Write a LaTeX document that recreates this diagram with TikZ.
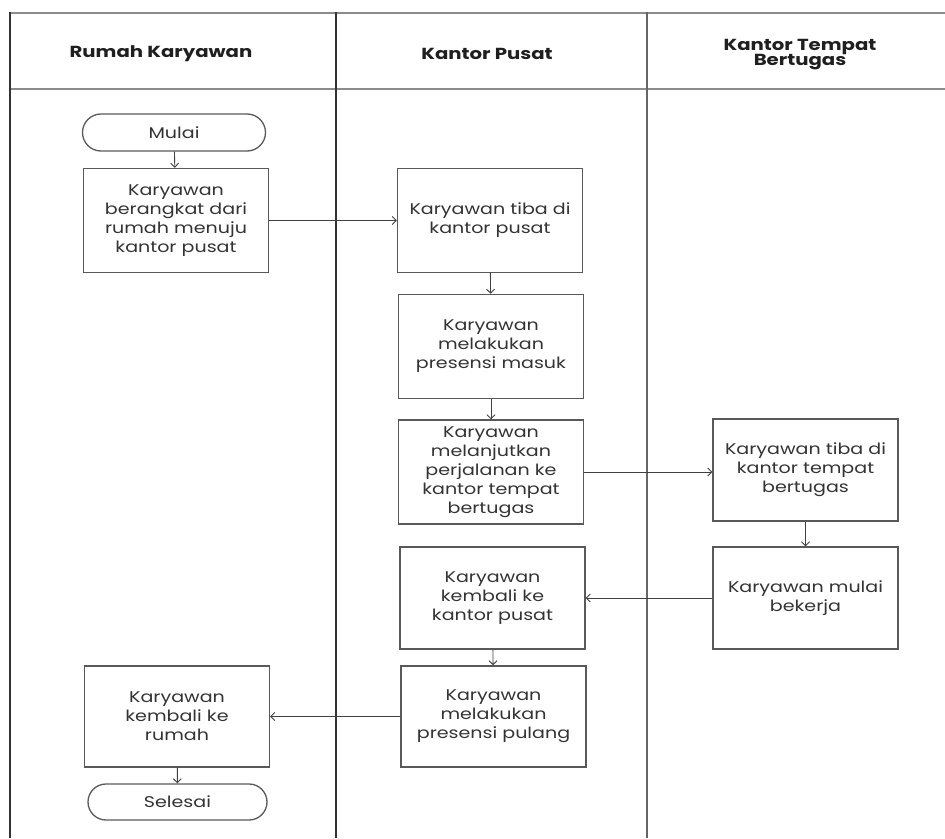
\documentclass[tikz,border=0pt]{standalone}
\usepackage{fontspec}
\setmainfont{Poppins}[FakeStretch=1.23]
\usetikzlibrary{arrows.meta,shapes.misc}
\begin{document}
\begin{tikzpicture}[x=1pt,y=-1pt,
  lanedark/.style={draw=black!80,line width=1.8pt},
  lanegray/.style={draw=black!45,line width=2pt},
  hdr/.style={font=\fontsize{16}{18}\selectfont\bfseries,text=black!88,align=center},
  procbox/.style={draw=black!65,line width=1.4pt,minimum width=185pt,minimum height=104pt,inner sep=0pt,align=center,text=black!80,font=\fontsize{15.5}{19}\selectfont},
  term/.style={draw=black!65,line width=1.3pt,rounded rectangle,minimum width=183pt,minimum height=37pt,inner sep=0pt,text=black!80,font=\fontsize{15.5}{18}\selectfont},
  flow/.style={draw=black!75,line width=0.9pt,-{Straight Barb[length=4pt,width=8pt]}}
]
\useasboundingbox (0,0) rectangle (945,838);
% swimlane frame
\draw[lanegray] (10,13) -- (945,13);
\draw[lanegray] (10,89) -- (945,89);
\draw[lanedark] (10,12) -- (10,838);
\draw[lanedark] (336,12) -- (336,838);
\draw[draw=black!60,line width=1.8pt] (647,12) -- (647,838);
% headers
\node[hdr] (h1) at (161,54) {Rumah Karyawan};
\node[hdr] (h2) at (487,54) {Kantor Pusat};
\node[hdr] (h3) at (800,55) {Kantor Tempat\\[-3pt]Bertugas};
% nodes
\node[term] (mulai) at (174,132.5) {Mulai};
\node[procbox] (b1) at (176,220.5) {Karyawan\\berangkat dari\\rumah menuju\\kantor pusat};
\node[procbox] (b2) at (490,220.5) {Karyawan tiba di\\kantor pusat};
\node[procbox] (b3) at (491,346.5) {Karyawan\\melakukan\\presensi masuk};
\node[procbox] (b4) at (491,472) {Karyawan\\melanjutkan\\perjalanan ke\\kantor tempat\\bertugas};
\node[procbox,minimum height=102pt] (b5) at (805.5,470) {Karyawan tiba di\\kantor tempat\\bertugas};
\node[procbox,minimum height=102pt] (b6) at (805.5,598) {Karyawan mulai\\bekerja};
\node[procbox,minimum height=102pt] (b7) at (492.5,598) {Karyawan\\kembali ke\\kantor pusat};
\node[procbox,minimum height=101pt] (b8) at (493.5,716.5) {Karyawan\\melakukan\\presensi pulang};
\node[procbox,minimum height=101pt] (b9) at (177,716.5) {Karyawan\\kembali ke\\rumah};
\node[term,minimum width=179pt,minimum height=36pt] (selesai) at (177.5,802) {Selesai};
% connectors
\draw[flow] (mulai) -- (b1);
\draw[flow] (b1.east) -- (b1.east -| b2.west);
\draw[flow] (b2) -- (b3);
\draw[flow] (b3) -- (b4);
\draw[flow] (b4.east) -- (b4.east -| b5.west);
\draw[flow] (b5) -- (b6);
\draw[flow] (b6.west) -- (b6.west -| b7.east);
\draw[flow] (b7) -- (b8);
\draw[flow] (b8.west) -- (b8.west -| b9.east);
\draw[flow] (b9) -- (selesai);
\end{tikzpicture}
\end{document}
